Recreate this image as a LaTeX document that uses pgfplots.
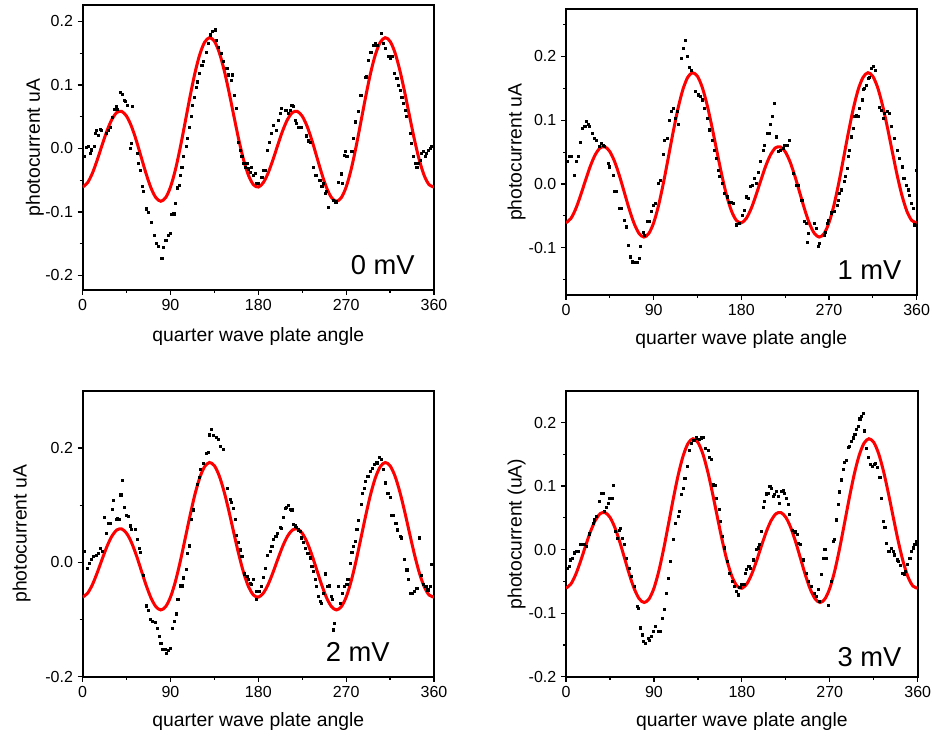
\documentclass[border=0pt]{standalone}
\usepackage{fontspec}
\setmainfont{Liberation Sans}
\usepackage{pgfplots}
\pgfplotsset{compat=1.18}
\pgfplotsset{
 qwp/.style={
   scale only axis,
   width=263.5pt, height=214pt,
   anchor=south west,
   xmin=0, xmax=360,
   xtick={0,90,180,270,360},
   minor xtick={45,135,225,315},
   axis line style={line width=1.5pt},
   tick style={black, line width=0.9pt},
   major tick length=3.75pt,
   minor tick length=2.25pt,
   tick align=outside,
   tick pos=left,
   /pgf/number format/assume math mode=true,
   ticklabel style={font=\fontsize{12}{14}\selectfont},
   yticklabel style={/pgf/number format/fixed, /pgf/number format/fixed zerofill, /pgf/number format/precision=1},
   label style={font=\fontsize{14.5}{17}\selectfont},
   xlabel={quarter wave plate angle},
 },
 dots/.style={only marks, mark=square*, mark size=0.8pt, black},
 fit/.style={red, line width=2.25pt, smooth, no marks},
}
\newcommand{\fitcurve}{%
\addplot[fit] coordinates {
(0,-0.0608) (5,-0.0541) (10,-0.0389) (15,-0.0178) (20,0.0057) (25,0.0281) (30,0.0459) (35,0.0566) (40,0.0583) (45,0.0508) (50,0.0348) (55,0.0123) (60,-0.0138) (65,-0.0398) (70,-0.0622) (75,-0.0775) (80,-0.0832) (85,-0.0776) (90,-0.0608) (95,-0.0337) (100,0.0015) (105,0.0412) (110,0.0815) (115,0.1185) (120,0.1481) (125,0.1674) (130,0.1745) (135,0.1688) (140,0.1510) (145,0.1231) (150,0.0884) (155,0.0506) (160,0.0136) (165,-0.0185) (170,-0.0428) (175,-0.0572)
(180,-0.0608) (185,-0.0541) (190,-0.0389) (195,-0.0178) (200,0.0057) (205,0.0281) (210,0.0459) (215,0.0566) (220,0.0583) (225,0.0508) (230,0.0348) (235,0.0123) (240,-0.0138) (245,-0.0398) (250,-0.0622) (255,-0.0775) (260,-0.0832) (265,-0.0776) (270,-0.0608) (275,-0.0337) (280,0.0015) (285,0.0412) (290,0.0815) (295,0.1185) (300,0.1481) (305,0.1674) (310,0.1745) (315,0.1688) (320,0.1510) (325,0.1231) (330,0.0884) (335,0.0506) (340,0.0136) (345,-0.0185) (350,-0.0428) (355,-0.0572) (360,-0.0608)
};}
\begin{document}
\begin{tikzpicture}
\path[use as bounding box] (0,0) rectangle (699.75pt,552.75pt);
% ---------- panel 1: 0 mV
\begin{axis}[qwp, at={(62pt,335.25pt)}, height=213.75pt,
  ymin=-0.223, ymax=0.226, ytick={-0.2,-0.1,0,0.1,0.2}, minor ytick={-0.15,-0.05,0.05,0.15},
  ylabel={photocurrent uA},
  ylabel style={at={(axis description cs:-0.136,0.5)}, anchor=center},
  xlabel style={at={(axis description cs:0.5,-0.164)}, anchor=center}]
\addplot[dots] table {
1.4 -0.013
3.4 0.002
5.8 0.003
7.5 -0.008
9.2 -0.002
11.6 0.004
12.6 0.024
14.3 0.029
16.0 0.021
17.8 0.030
19.5 0.029
24.6 0.024
26.3 0.029
28.0 0.033
30.4 0.049
32.5 0.062
34.2 0.066
35.5 0.062
38.3 0.088
40.3 0.086
42.4 0.076
44.0 0.074
45.8 0.068
48.5 0.000
50.2 0.008
51.2 0.067
56.0 -0.008
57.4 -0.024
59.1 -0.034
61.5 -0.060
62.5 -0.068
65.6 -0.095
67.3 -0.100
70.7 -0.116
73.1 -0.137
75.2 -0.149
77.9 -0.154
81.0 -0.173
82.7 -0.156
85.1 -0.145
87.8 -0.137
89.5 -0.134
91.2 -0.104
93.3 -0.103
94.6 -0.087
97.0 -0.062
98.7 -0.058
99.8 -0.042
101.5 -0.029
103.2 -0.013
105.9 0.003
107.3 0.016
109.3 0.034
111.0 0.050
112.7 0.068
114.5 0.081
116.2 0.097
117.5 0.105
119.6 0.118
122.0 0.131
123.7 0.137
126.4 0.152
128.8 0.166
130.5 0.179
133.2 0.184
135.6 0.187
137.3 0.171
139.0 0.160
142.0 0.150
144.5 0.138
147.6 0.126
149.3 0.116
152.7 0.108
153.7 0.116
155.1 0.084
157.2 0.063
159.5 0.010
161.3 -0.003
163.0 -0.013
164.7 -0.024
166.4 -0.029
168.1 -0.024
169.8 -0.032
171.5 -0.037
173.2 -0.029
174.9 -0.042
176.6 -0.039
178.3 -0.055
180.0 -0.055
183.5 -0.045
185.2 -0.034
186.8 -0.034
189.0 -0.003
191.5 0.010
193.5 0.024
195.5 0.037
198.8 0.029
200.5 0.045
202.2 0.055
203.9 0.063
207.3 0.060
209.0 0.060
210.8 0.055
212.5 0.060
214.2 0.068
215.9 0.066
217.6 0.045
219.3 0.039
221.0 0.034
222.7 0.034
224.4 0.034
229.0 0.020
231.0 0.012
233.0 0.010
236.4 -0.029
238.0 -0.042
239.8 -0.042
243.0 -0.050
245.0 -0.060
246.6 -0.055
248.3 -0.071
250.0 -0.068
251.8 -0.092
257.0 -0.082
258.6 -0.084
260.3 -0.084
262.0 -0.053
264.7 -0.040
266.0 -0.055
268.0 -0.011
269.5 -0.005
270.6 -0.013
275.7 -0.005
277.4 0.016
279.0 0.042
282.5 0.058
285.0 0.084
289.3 0.112
291.0 0.113
292.8 0.139
294.5 0.151
296.0 0.152
298.0 0.163
299.6 0.166
301.3 0.163
305.7 0.182
308.0 0.166
310.0 0.158
313.3 0.145
315.0 0.142
316.7 0.145
319.4 0.118
321.8 0.110
323.5 0.100
325.0 0.092
327.0 0.081
328.6 0.071
330.3 0.060
332.0 0.050
335.5 0.024
337.0 0.008
338.9 -0.013
340.6 -0.024
342.3 -0.029
344.0 -0.024
345.7 -0.018
347.4 -0.008
349.0 -0.005
350.8 -0.013
352.5 -0.008
354.0 -0.003
356.0 0.000
357.7 0.003
};
\fitcurve
\node[anchor=south east, inner sep=0pt, font=\fontsize{20.5}{24}\selectfont, xshift=-14.25pt, yshift=11.25pt] at (rel axis cs:1,0) {0 mV};
\end{axis}
% ---------- panel 2: 1 mV
\begin{axis}[qwp, at={(424.5pt,331.5pt)}, width=263pt, height=214.3pt,
  ymin=-0.174, ymax=0.274, ytick={-0.1,0,0.1,0.2}, minor ytick={-0.15,-0.05,0.05,0.15,0.25},
  ylabel={photocurrent uA},
  ylabel style={at={(axis description cs:-0.1406,0.5)}, anchor=center},
  xlabel style={at={(axis description cs:0.5,-0.1575)}, anchor=center}]
\addplot[dots] table {
1.0 0.035
3.1 0.043
5.5 0.043
8.9 0.014
10.6 0.035
12.3 0.043
14.7 0.066
16.8 0.087
19.2 0.090
20.9 0.098
22.6 0.093
24.3 0.090
27.0 0.080
29.4 0.072
31.1 0.069
33.9 0.059
36.3 0.064
38.0 0.061
39.7 0.059
43.1 0.032
44.8 0.027
48.2 0.014
50.0 -0.012
51.7 -0.012
54.4 -0.038
56.8 -0.038
59.5 -0.057
61.9 -0.067
63.6 -0.096
66.0 -0.114
68.1 -0.122
70.5 -0.123
72.9 -0.123
74.9 -0.117
76.6 -0.098
79.0 -0.075
80.7 -0.080
83.1 -0.059
85.2 -0.058
87.6 -0.043
89.3 -0.033
92.0 -0.030
94.4 0.001
96.8 0.006
99.6 0.046
101.3 0.069
103.7 0.072
105.7 0.100
108.1 0.114
109.8 0.119
112.6 0.103
114.0 0.114
115.0 0.093
118.4 0.197
120.8 0.213
122.8 0.226
124.5 0.200
126.9 0.183
128.7 0.179
133.1 0.145
135.5 0.140
137.9 0.137
139.9 0.132
142.3 0.119
144.7 0.103
147.5 0.085
150.2 0.069
152.6 0.053
154.3 0.040
156.0 0.022
157.7 0.012
160.5 0.001
162.9 -0.015
165.3 -0.020
168.0 -0.028
169.7 -0.028
171.4 -0.030
174.8 -0.064
177.6 -0.061
180.7 -0.049
182.7 -0.041
185.1 -0.020
186.8 -0.023
189.6 -0.004
190.9 -0.002
193.7 0.009
195.4 0.001
197.8 0.019
199.8 0.035
202.2 0.053
203.9 0.061
206.7 0.080
208.4 0.080
209.7 0.093
211.5 0.106
214.2 0.127
215.9 0.074
218.3 0.051
220.3 0.053
222.7 0.056
224.5 0.061
227.2 0.061
229.6 0.069
233.0 0.017
236.4 -0.002
238.1 -0.002
242.0 -0.025
245.0 -0.059
246.7 -0.062
247.7 -0.091
248.4 -0.077
255.2 -0.062
257.0 -0.070
259.4 -0.098
260.4 -0.093
264.8 -0.080
266.2 -0.075
268.2 -0.062
269.6 -0.057
272.4 -0.045
275.8 -0.043
278.5 -0.033
279.9 -0.025
280.9 -0.015
282.6 -0.009
285.3 0.004
286.7 0.012
288.8 0.025
290.2 0.043
291.2 0.053
292.9 0.074
294.6 0.087
296.3 0.106
298.0 0.107
299.7 0.106
301.4 0.119
303.8 0.132
304.9 0.148
306.6 0.150
308.3 0.155
310.0 0.166
311.7 0.168
313.4 0.182
315.1 0.185
317.5 0.179
322.0 0.121
323.7 0.116
325.4 0.103
327.1 0.111
329.8 0.114
332.2 0.111
333.9 0.090
337.4 0.072
340.0 0.053
342.5 0.040
344.9 0.027
345.9 0.009
347.6 0.009
349.3 -0.002
351.0 -0.009
352.8 -0.017
354.5 -0.030
356.2 -0.038
357.9 -0.064
359.6 0.022
};
\fitcurve
\node[anchor=south east, inner sep=0pt, font=\fontsize{20.5}{24}\selectfont, xshift=-11.25pt, yshift=11.25pt] at (rel axis cs:1,0) {1 mV};
\end{axis}
% ---------- panel 3: 2 mV
\begin{axis}[qwp, at={(62pt,45.2pt)}, height=214.5pt,
  ymin=-0.2, ymax=0.30, ytick={-0.2,0,0.2}, minor ytick={-0.1,0.1},
  ylabel={photocurrent uA},
  ylabel style={at={(axis description cs:-0.1736,0.5)}, anchor=center},
  xlabel style={at={(axis description cs:0.5,-0.157)}, anchor=center}]
\addplot[dots] table {
1.4 0.019
4.8 -0.010
6.8 -0.001
9.2 0.005
10.9 0.010
13.7 0.012
16.0 0.016
18.4 0.025
20.5 0.019
21.9 0.079
24.6 0.051
26.6 0.068
28.7 0.069
30.4 0.093
31.4 0.108
34.2 0.075
35.5 0.077
37.6 0.076
39.0 0.118
41.0 0.143
42.7 0.097
45.1 0.083
46.8 0.080
48.5 0.064
50.2 0.058
53.6 0.058
56.0 0.041
58.1 0.025
59.4 0.017
62.2 -0.023
64.9 -0.076
67.3 -0.084
69.7 -0.099
71.7 -0.103
74.1 -0.105
76.5 -0.115
78.6 -0.129
80.0 -0.141
81.3 -0.152
82.7 -0.152
84.4 -0.152
86.1 -0.159
87.8 -0.153
89.5 -0.150
91.9 -0.115
93.6 -0.103
95.7 -0.090
97.4 -0.065
99.8 -0.041
101.5 -0.041
103.2 -0.027
105.9 -0.012
107.3 0.016
109.3 0.029
111.7 0.076
113.4 0.092
117.5 0.136
119.6 0.149
120.9 0.163
123.7 0.173
126.4 0.190
128.8 0.192
129.8 0.223
132.2 0.233
133.9 0.222
136.7 0.218
139.0 0.215
141.4 0.203
144.2 0.197
148.0 0.130
151.0 0.110
152.7 0.105
154.4 0.095
156.1 0.075
157.8 0.048
159.5 0.035
161.3 0.022
163.0 0.010
165.4 -0.020
168.1 -0.024
169.8 -0.030
171.5 -0.037
173.2 -0.039
174.9 -0.030
177.6 -0.051
178.3 -0.065
180.7 -0.051
182.7 -0.042
185.1 -0.026
187.5 -0.010
189.6 0.013
192.0 0.019
193.7 0.028
195.4 0.040
197.8 0.045
199.8 0.051
202.2 0.062
203.9 0.060
205.6 0.079
207.3 0.095
209.0 0.097
210.8 0.099
212.5 0.093
214.2 0.092
215.9 0.066
217.6 0.064
219.3 0.062
221.0 0.057
222.7 0.054
224.4 0.043
226.1 0.035
227.8 0.025
230.6 0.016
233.0 0.008
234.7 -0.007
236.4 -0.016
238.1 -0.030
239.8 -0.042
241.5 -0.059
243.2 -0.068
244.9 -0.071
246.6 -0.054
248.3 -0.020
251.1 -0.042
252.4 -0.041
254.5 -0.059
255.9 -0.065
256.5 -0.118
257.9 -0.106
262.0 -0.042
263.7 -0.071
266.1 -0.054
268.2 -0.042
270.6 -0.039
271.6 -0.030
274.0 -0.001
275.7 0.017
277.4 0.028
279.1 0.037
280.8 0.058
282.5 0.073
285.2 0.101
286.6 0.120
288.7 0.130
290.0 0.142
292.1 0.150
294.5 0.159
296.9 0.165
298.9 0.171
301.3 0.174
303.7 0.183
305.7 0.180
308.1 0.162
309.8 0.139
312.6 0.120
315.0 0.113
316.7 0.083
318.4 0.083
320.8 0.069
322.8 0.057
325.2 0.045
326.9 0.043
329.7 0.005
332.1 -0.013
333.8 -0.030
335.5 -0.054
337.2 -0.054
339.9 -0.051
342.3 -0.045
344.7 0.043
346.7 -0.022
349.1 -0.039
351.5 -0.042
353.6 -0.048
355.9 -0.042
357.7 -0.004
};
\fitcurve
\node[anchor=south east, inner sep=0pt, font=\fontsize{20.5}{24}\selectfont, xshift=-33pt, yshift=11.25pt] at (rel axis cs:1,0) {2 mV};
\end{axis}
% ---------- panel 4: 3 mV
\begin{axis}[qwp, at={(424.5pt,45.2pt)}, width=263.8pt, height=214pt,
  ymin=-0.2, ymax=0.249, ytick={-0.2,-0.1,0,0.1,0.2}, minor ytick={-0.15,-0.05,0.05,0.15},
  ylabel={photocurrent (uA)},
  ylabel style={at={(axis description cs:-0.1402,0.5)}, anchor=center},
  xlabel style={at={(axis description cs:0.5,-0.157)}, anchor=center}]
\addplot[dots] table {
1.0 -0.029
3.1 -0.026
4.4 -0.016
6.5 -0.013
8.9 -0.005
10.6 -0.003
12.3 -0.003
14.7 0.008
16.7 0.009
19.1 0.008
20.8 0.005
24.0 0.025
27.6 0.042
29.3 0.047
31.0 0.052
33.8 0.076
36.2 0.089
37.9 0.089
39.6 0.060
41.3 0.066
43.0 0.073
44.7 0.081
47.4 0.081
48.1 0.101
50.8 0.029
52.2 0.018
54.2 0.031
55.6 0.034
57.7 0.018
60.0 0.008
61.8 -0.013
64.5 -0.029
66.9 -0.042
70.3 -0.058
72.7 -0.089
73.7 -0.092
76.1 -0.123
78.1 -0.134
79.5 -0.144
81.5 -0.147
83.9 -0.139
85.6 -0.142
87.3 -0.136
89.7 -0.129
91.8 -0.121
94.2 -0.129
96.6 -0.129
98.6 -0.108
101.0 -0.094
102.7 -0.068
104.4 -0.045
106.8 -0.018
109.5 0.016
112.2 0.042
114.6 0.052
116.3 0.061
118.0 0.087
119.8 0.097
121.5 0.112
123.8 0.131
125.9 0.157
128.3 0.168
130.7 0.172
133.4 0.176
136.1 0.173
138.5 0.176
140.2 0.177
142.9 0.160
145.3 0.157
147.0 0.145
148.8 0.142
150.5 0.102
152.2 0.101
153.9 0.081
156.6 0.063
158.0 0.045
160.0 0.021
162.4 0.003
164.8 -0.018
167.5 -0.037
170.2 -0.050
172.6 -0.058
174.3 -0.066
176.0 -0.071
177.8 -0.059
179.5 -0.055
182.2 -0.054
183.6 -0.037
184.6 -0.031
187.0 -0.026
189.0 -0.029
191.4 -0.016
194.8 0.000
196.5 0.003
198.2 0.008
199.9 0.029
201.6 0.066
203.3 0.076
205.0 0.088
206.8 0.089
208.5 0.100
210.2 0.097
211.9 0.084
213.6 0.087
215.3 0.092
217.0 0.084
218.7 0.073
220.4 0.092
222.1 0.093
223.8 0.089
225.5 0.081
227.2 0.071
228.9 0.055
231.3 0.030
234.1 0.028
236.8 0.024
238.1 0.010
240.2 0.009
242.6 -0.016
246.0 -0.037
248.4 -0.050
251.1 -0.058
253.8 -0.068
256.2 -0.073
257.9 -0.063
259.6 -0.081
261.3 -0.039
263.1 -0.014
264.8 0.000
266.5 -0.014
268.8 -0.087
271.6 -0.050
273.3 0.013
275.0 0.016
276.7 0.047
278.4 0.071
280.1 0.091
281.8 0.110
283.5 0.126
285.2 0.138
286.9 0.140
288.6 0.161
290.3 0.163
292.0 0.170
293.8 0.176
295.5 0.181
297.2 0.189
298.9 0.194
300.6 0.206
302.3 0.210
304.0 0.214
305.7 0.187
307.4 0.160
309.8 0.145
311.8 0.135
313.2 0.131
315.2 0.135
316.6 0.136
318.7 0.129
321.1 0.114
322.8 0.081
324.5 0.045
326.2 0.035
327.9 0.010
329.6 -0.002
331.3 -0.002
333.0 0.002
334.7 -0.003
336.4 -0.008
339.1 -0.016
340.5 -0.018
342.5 -0.024
343.9 -0.037
346.0 -0.039
347.3 -0.034
349.4 -0.023
351.8 -0.013
353.5 -0.003
355.2 0.003
356.9 0.009
358.6 0.013
};
\fitcurve
\node[anchor=south east, inner sep=0pt, font=\fontsize{20.5}{24}\selectfont, xshift=-12pt, yshift=7.5pt] at (rel axis cs:1,0) {3 mV};
\end{axis}
\end{tikzpicture}
\end{document}
